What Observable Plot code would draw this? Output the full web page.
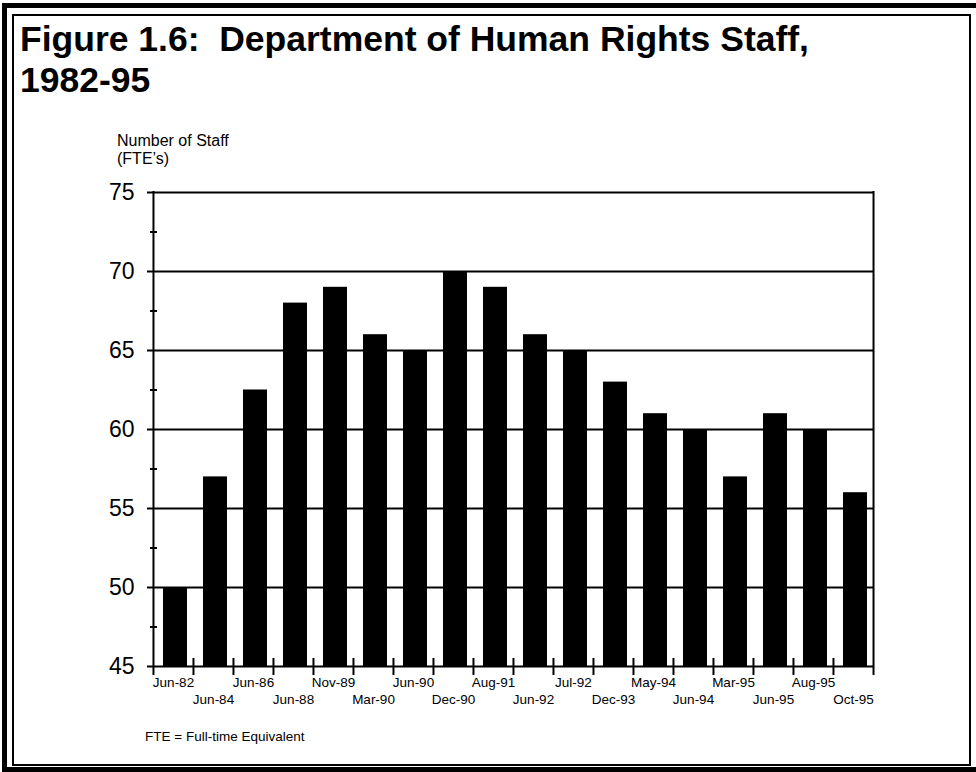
<!DOCTYPE html>
<html>
<head>
<meta charset="utf-8">
<script src="https://cdn.jsdelivr.net/npm/d3@7"></script>
<script src="https://cdn.jsdelivr.net/npm/@observablehq/plot@0.6"></script>
<style>
  html, body { margin: 0; padding: 0; background: #fff; }
  #wrap { position: relative; width: 976px; height: 772px; overflow: hidden;
          font-family: "Liberation Sans", Arial, Helvetica, sans-serif; color: #000; }
  .outer { position: absolute; left: 2px; top: 3px; width: 990px; height: 769px;
           border: 5px solid #000; box-sizing: border-box; }
  .inner { position: absolute; left: 12px; top: 14px; width: 959px; height: 752px;
           border: 2px solid #000; box-sizing: border-box; }
  .title { position: absolute; left: 20px; top: 19px; font-weight: bold; font-size: 35.5px;
           line-height: 41px; margin: 0; white-space: nowrap; }
  .ylab { position: absolute; left: 117px; top: 132px; font-size: 16px; line-height: 18px; }
  .note { position: absolute; left: 145px; top: 729px; font-size: 13.5px; }
  #chart { position: absolute; left: 0; top: 0; }
</style>
</head>
<body>
<div id="wrap">
  <div class="outer"></div>
  <div class="inner"></div>
  <div class="title">Figure 1.6:&nbsp; Department of Human Rights Staff,<br>1982-95</div>
  <div class="ylab">Number of Staff<br>(FTE’s)</div>
  <div class="note">FTE = Full-time Equivalent</div>
  <div id="chart"></div>
</div>
<script>
const labels = ["Jun-82","Jun-84","Jun-86","Jun-88","Nov-89","Mar-90","Jun-90","Dec-90","Aug-91",
                "Jun-92","Jul-92","Dec-93","May-94","Jun-94","Mar-95","Jun-95","Aug-95","Oct-95"];
const staff = [50, 57, 62.5, 68, 69, 66, 65, 70, 69, 66, 65, 63, 61, 60, 57, 61, 60, 56];
const yTicks = [45, 50, 55, 60, 65, 70, 75];
const yMinorTicks = [47.5, 52.5, 57.5, 62.5, 67.5, 72.5];
const yDomain = [45, 75];

const data = labels.map((label, i) => ({label, value: staff[i], row: i % 2}));

const W = 976, H = 772, mL = 152, mR = 103, mT = 192, mB = 106;
const pInner = 0.4, pOuter = 0.2;
const step = (W - mL - mR) / (labels.length - pInner + 2 * pOuter);
const half = step / 2;

const chart = Plot.plot({
  width: W, height: H,
  marginLeft: mL, marginRight: mR, marginTop: mT, marginBottom: mB,
  style: { fontFamily: '"Liberation Sans", Arial, sans-serif', color: "#000", background: "none", overflow: "visible" },
  x: { domain: labels, paddingInner: pInner, paddingOuter: pOuter, axis: null },
  y: { domain: yDomain, axis: null },
  marks: [
    Plot.ruleY(yTicks, { stroke: "#000", strokeWidth: 2, insetLeft: -5 }),
    Plot.ruleY(yMinorTicks, { stroke: "#000", strokeWidth: 2, insetLeft: -2, insetRight: (W - mL - mR) - 5 }),
    Plot.barY(data, { x: "label", y1: yDomain[0], y2: "value", fill: "#000", dx: 2 }),
    Plot.ruleX([labels[0]], { x: d => d, y1: yDomain[1], y2: yDomain[0], dx: -half, stroke: "#000", strokeWidth: 2, insetBottom: -9, insetTop: -1 }),
    Plot.ruleX([labels[labels.length - 1]], { x: d => d, y1: yDomain[1], y2: yDomain[0], dx: half, stroke: "#000", strokeWidth: 2, insetBottom: -9, insetTop: -1 }),
    Plot.ruleX(labels.slice(1), { x: d => d, y1: yDomain[0], y2: yDomain[0], dx: -half, stroke: "#000", strokeWidth: 2, insetTop: -8, insetBottom: -9 }),
    Plot.axisY(yTicks, { tickSize: 0, tickPadding: 18, fontSize: 23, label: null, tickFormat: d => String(d) }),
    Plot.text(data.filter(d => d.row === 0), { x: "label", y: yDomain[0], text: "label", dy: 16, fontSize: 13.5 }),
    Plot.text(data.filter(d => d.row === 1), { x: "label", y: yDomain[0], text: "label", dy: 33, fontSize: 13.5 })
  ]
});
document.getElementById("chart").appendChild(chart);
</script>
</body>
</html>
